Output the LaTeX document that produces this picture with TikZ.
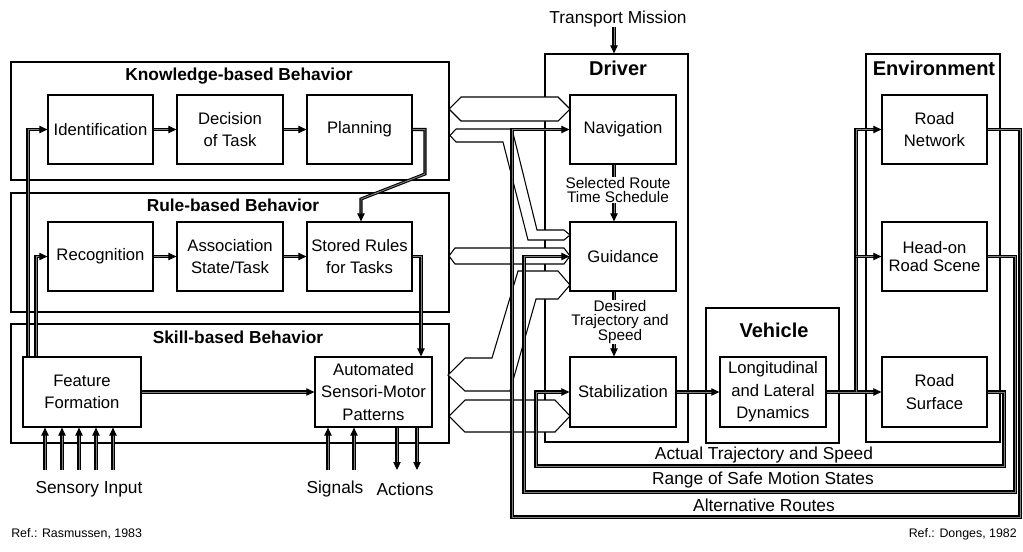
\documentclass[tikz,border=0pt]{standalone}
\usepackage{fontspec}
\setmainfont{Liberation Sans}
\usetikzlibrary{arrows.meta,calc}
\begin{document}
\begin{tikzpicture}[x=0.75pt,y=-0.75pt,
  sz/.style 2 args={minimum width=#1*0.75pt, minimum height=#2*0.75pt},
  box/.style={draw, line width=0.9pt, inner sep=0pt, align=center, font=\fontsize{12.5}{17}\selectfont},
  layer/.style={draw, line width=0.9pt, inner sep=0pt},
  ltitle/.style={inner sep=0pt, font=\bfseries\fontsize{13}{15}\selectfont},
  btitle/.style={inner sep=0pt, font=\bfseries\fontsize{15}{18}\selectfont},
  small/.style={align=center, inner sep=0pt, font=\fontsize{11.5}{10.5}\selectfont},
  lbl/.style={inner sep=0pt, font=\fontsize{13}{15}\selectfont},
  reftxt/.style={inner sep=0pt, font=\fontsize{9.3}{11}\selectfont},
  dline/.style={draw=black, line width=0.8pt, double=black!50, double distance=0.7pt},
  conn/.style={dline, -{Triangle[length=6pt,width=5.5pt]}},
  band/.style={draw, line width=0.8pt, fill=white, line join=miter},
]
\useasboundingbox (0,0) rectangle (1023,551);

% ---------- left: behaviour levels ----------
\node[layer, sz={438}{118}] (kb) at (230,121) {};
\node[layer, sz={438}{119}] (rb) at (230,252.5) {};
\node[layer, sz={438}{119}] (sb) at (230,383.5) {};
\node[ltitle] (kbt) at (239,76) {Knowledge-based Behavior};
\node[ltitle] (rbt) at (233,205) {Rule-based Behavior};
\node[ltitle] (sbt) at (238,337) {Skill-based Behavior};

\node[box, sz={105}{69}] (ident) at (100.5,129.5) {Identification};
\node[box, sz={106}{69}] (dec) at (230,129.5) {Decision\\of Task};
\node[box, sz={105}{69}] (plan) at (359.5,129.5) {Planning};
\node[box, sz={105}{69}] (recog) at (100.5,256.5) {Recognition};
\node[box, sz={106}{69}] (assoc) at (230,256.5) {Association\\State/Task};
\node[box, sz={105}{69}] (stored) at (359.5,256.5) {Stored Rules\\for Tasks};
\node[box, sz={118}{70}] (ff) at (82,392) {Feature\\Formation};
\node[box, sz={117}{70}] (auto) at (373.5,392) {Automated\\Sensori-Motor\\Patterns};

\node[lbl] (sens) at (89,489) {Sensory Input};
\node[lbl] (sig) at (335,489) {Signals};
\node[lbl] (act) at (405,489) {Actions};

% ---------- right: driver, vehicle, environment ----------
\node[layer, sz={143}{388}] (drv) at (616.5,248) {};
\node[layer, sz={133}{135}] (veh) at (772.5,375.5) {};
\node[layer, sz={134}{388}] (env) at (933,248) {};
\node[btitle] (drvt) at (618,68) {Driver};
\node[btitle] (veht) at (774,330) {Vehicle};
\node[btitle] (envt) at (934,68) {Environment};

\node[box, sz={106}{69}] (nav) at (623,129.5) {Navigation};
\node[box, sz={106}{69}] (guid) at (623,256.5) {Guidance};
\node[box, sz={106}{70}] (stab) at (623,392) {Stabilization};
\node[box, sz={106}{70}] (long) at (773,392) {Longitudinal\\and Lateral\\Dynamics};
\node[box, sz={105}{69}] (rn) at (934.5,129.5) {Road\\Network};
\node[box, sz={105}{69}, font=\fontsize{12.5}{13.5}\selectfont] (head) at (934.5,256.5) {Head-on\\Road Scene};
\node[box, sz={105}{70}] (rs) at (934.5,392) {Road\\Surface};

\node[lbl] (tm) at (618,19) {Transport Mission};
\node[small] (sel) at (618,190) {Selected Route\\Time Schedule};
\node[small] (des) at (620,322) {Desired\\Trajectory and\\Speed};

\node[lbl] (lact) at (764,455) {Actual Trajectory and Speed};
\node[lbl] (lrng) at (763,480) {Range of Safe Motion States};
\node[lbl] (lalt) at (764,505) {Alternative Routes};

\node[reftxt, anchor=west] (ref1) at (11,534) {Ref.: Rasmussen, 1983};
\node[reftxt, anchor=east] (ref2) at (1017,534) {Ref.: Donges, 1982};

% ---------- hollow interface arrows ----------
\draw[band] (449,109) -- (461,97) -- (558,97) -- (570,109) -- (558,121) -- (461,121) -- cycle;
\draw[band] (450,135.5) -- (456,129) -- (512,129) -- (537,230) -- (564,230) -- (570,235)
  -- (564,240) -- (528,240) -- (503,142) -- (456,142) -- cycle;
\draw[band] (449,256) -- (455,248) -- (564,248) -- (570,256) -- (564,264) -- (455,264) -- cycle;
\draw[band] (448,375) -- (465,358) -- (492,358) -- (518,271) -- (558,271) -- (570,285)
  -- (558,299) -- (536,299) -- (510,391) -- (465,391) -- cycle;
\draw[band] (449,416) -- (465,400) -- (555,400) -- (570,416) -- (555,432) -- (465,432) -- cycle;

% ---------- connectors, left ----------
\coordinate (c28) at (28,0);
\coordinate (c36) at (36,0);
\draw[conn] (ff.north -| c28) |- (ident.west);
\draw[conn] (ff.north -| c36) |- (recog.west);
\draw[conn] (ident.east) -- (dec.west);
\draw[conn] (dec.east) -- (plan.west);
\draw[conn] (recog.east) -- (assoc.west);
\draw[conn] (assoc.east) -- (stored.west);
\coordinate (p1) at (425,174);
\coordinate (p2) at (361,199);
\draw[conn] (plan.east) -| (p1) -- (p2) -- (p2 |- stored.north);
\coordinate (p3) at (421,0);
\draw[conn] (stored.east) -| (p3 |- auto.north);
\draw[conn] (ff.east) -- (auto.west);
\foreach \x in {45,62,79,96,113} {
  \coordinate (s\x) at (\x,470);
  \draw[conn] (s\x) -- (s\x |- ff.south);
}
\foreach \x in {328,354} {
  \coordinate (g\x) at (\x,470);
  \draw[conn] (g\x) -- (g\x |- auto.south);
}
\foreach \x in {397,417} {
  \coordinate (a\x) at (\x,470);
  \draw[conn] (a\x |- auto.south) -- (a\x);
}

% ---------- connectors, right ----------
\coordinate (vx) at (614,0);
\draw[conn] (tm.south -| vx) -- (drv.north -| vx);
\draw[dline] (nav.south -| vx) -- (sel.north -| vx);
\draw[conn] (sel.south -| vx) -- (guid.north -| vx);
\draw[dline] (guid.south -| vx) -- (des.north -| vx);
\draw[conn] (des.south -| vx) -- (stab.north -| vx);
\draw[conn] (stab.east) -- (long.west);
\draw[conn] (long.east) -- (rs.west);
\coordinate (ex) at (856,0);
\draw[conn] (long.east -| ex) |- (rn.west);
\draw[conn] (head.west -| ex) -- (head.west);

\coordinate (l1) at (1004,466);
\coordinate (l2) at (536,466);
\draw[conn] (rs.east) -| (l1) -- (l2) |- (stab.west);
\coordinate (r1) at (1015,492);
\coordinate (r2) at (524,492);
\draw[conn] (head.east) -| (r1) -- (r2) |- (guid.west);
\coordinate (t1) at (1020,517);
\coordinate (t2) at (512,517);
\draw[conn] (rn.east) -| (t1) -- (t2) |- (nav.west);
\end{tikzpicture}
\end{document}
